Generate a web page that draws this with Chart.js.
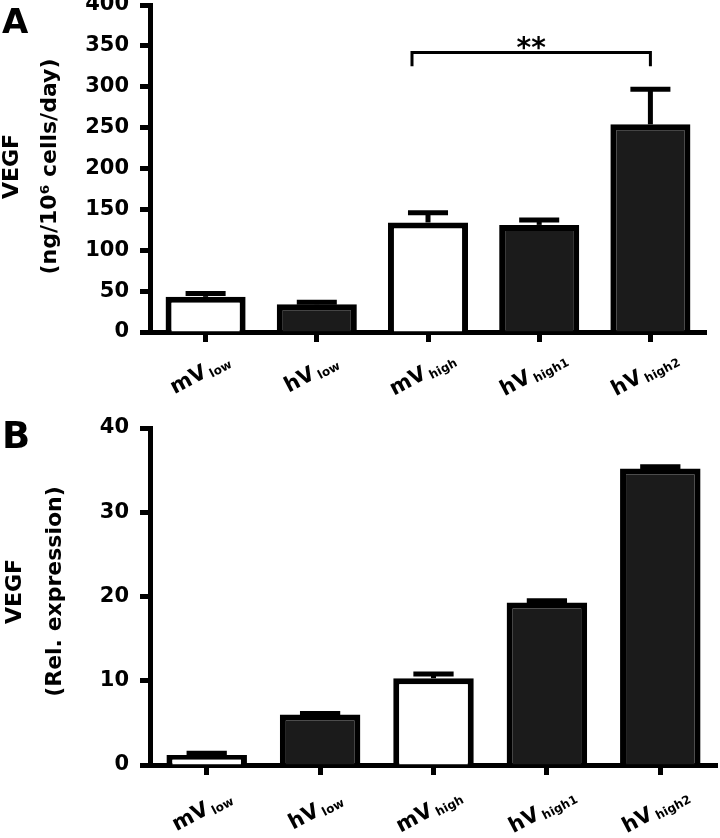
<!DOCTYPE html>
<html>
<head>
<meta charset="utf-8">
<script src="https://cdn.jsdelivr.net/npm/chart.js@4.4.1/dist/chart.umd.min.js"></script>
<style>
  html, body { margin: 0; padding: 0; background: #fff; width: 720px; height: 838px; overflow: hidden; position: relative; }
  canvas { position: absolute; left: 0; }
  #chartA { top: -25px; }
  #chartB { top: 398px; }
</style>
</head>
<body>
<canvas id="chartA" width="720" height="430"></canvas>
<canvas id="chartB" width="720" height="440"></canvas>
<script>
// ---- data ----
const groupMain = ['mV', 'hV', 'mV', 'hV', 'hV'];
const groupSub = ['low', 'low', 'high', 'high1', 'high2'];
const categories = groupMain.map((m, i) => m + ' ' + groupSub[i]);

// Panel A: VEGF secretion (ng/10^6 cells/day)
const secretionMeans = [43, 34, 134, 131, 254];
const secretionErrors = [4, 2.5, 12, 6, 43];
const secretionTicks = [0, 50, 100, 150, 200, 250, 300, 350, 400];
const secretionTitle = ['VEGF', '(ng/10\u2076 cells/day)'];
const sigFrom = 2, sigTo = 4, sigLevel = 342, sigLabel = '**';

// Panel B: VEGF relative expression
const expressionMeans = [1.2, 6.0, 10.3, 19.3, 35.2];
const expressionErrors = [0.2, 0.1, 0.5, 0.2, 0.2];
const expressionTicks = [0, 10, 20, 30, 40];
const expressionTitle = ['VEGF', '(Rel. expression)'];

const FONT = "'DejaVu Sans', sans-serif";

function annotPlugin(p) {
  return {
    id: 'annot',
    afterDraw(chart) {
      const { ctx, chartArea: ca, scales: { x, y } } = chart;
      const meta = chart.getDatasetMeta(0);
      ctx.save();
      // error bars (upper only)
      ctx.strokeStyle = '#000';
      ctx.lineWidth = 5;
      ctx.lineCap = 'butt';
      p.means.forEach((m, i) => {
        const cx = x.getPixelForValue(i);
        const y0 = y.getPixelForValue(m);
        const y1 = y.getPixelForValue(m + p.errs[i]);
        const half = meta.data[i].width / 4;
        ctx.beginPath(); ctx.moveTo(cx, y0); ctx.lineTo(cx, y1); ctx.stroke();
        ctx.beginPath(); ctx.moveTo(cx - half, y1); ctx.lineTo(cx + half, y1); ctx.stroke();
      });
      // significance bracket
      if (p.sig) {
        const xl = x.getPixelForValue(p.sig.from) - 16;
        const xr = x.getPixelForValue(p.sig.to);
        const yb = y.getPixelForValue(p.sig.level);
        const yd = y.getPixelForValue(p.sig.level - 17);
        ctx.lineWidth = 3;
        ctx.beginPath(); ctx.moveTo(xl, yd); ctx.lineTo(xl, yb); ctx.lineTo(xr, yb); ctx.lineTo(xr, yd); ctx.stroke();
        ctx.fillStyle = '#000';
        ctx.font = `bold 28px ${FONT}`;
        ctx.textAlign = 'center';
        ctx.textBaseline = 'alphabetic';
        ctx.fillText(p.sig.label, (xl + xr) / 2, yb + 5);
      }
      // category labels with subscripts
      ctx.fillStyle = '#000';
      groupMain.forEach((g, i) => {
        const cx = x.getPixelForValue(i) + p.labelDx;
        const cy = ca.bottom + p.labelDy;
        ctx.save();
        ctx.translate(cx, cy);
        ctx.rotate(-p.labelAngle * Math.PI / 180);
        ctx.font = `bold 21px ${FONT}`;
        const wm = ctx.measureText(g).width;
        ctx.font = `bold 12px ${FONT}`;
        const ws = ctx.measureText(groupSub[i]).width;
        const gap = 3;
        const total = wm + gap + ws;
        ctx.textAlign = 'left';
        ctx.textBaseline = 'alphabetic';
        ctx.font = `bold 21px ${FONT}`;
        ctx.fillText(g, -total / 2, 7);
        ctx.font = `bold 12px ${FONT}`;
        ctx.fillText(groupSub[i], -total / 2 + wm + gap, 10);
        ctx.restore();
      });
      // y-axis title (two lines)
      const midY = (ca.top + ca.bottom) / 2 + p.titleDy;
      ctx.font = `bold 22px ${FONT}`;
      ctx.textAlign = 'center';
      ctx.textBaseline = 'middle';
      p.title.forEach((t, k) => {
        ctx.save();
        ctx.translate(p.titleX[k], midY);
        ctx.rotate(-Math.PI / 2);
        ctx.fillText(t, 0, 0);
        ctx.restore();
      });
      // panel letter
      ctx.font = `bold ${p.letterSize}px ${FONT}`;
      ctx.textAlign = 'left';
      ctx.textBaseline = 'alphabetic';
      ctx.fillText(p.letter, 2, ca.top + p.letterDy);
      ctx.restore();
    }
  };
}

function buildChart(id, p) {
  return new Chart(document.getElementById(id), {
    type: 'bar',
    data: {
      labels: categories,
      datasets: [{
        data: p.means,
        backgroundColor: groupMain.map(g => g === 'mV' ? '#ffffff' : '#1b1b1b'),
        borderColor: '#000',
        borderWidth: 6,
        borderSkipped: 'start',
        barPercentage: p.barPct,
        categoryPercentage: 1.0
      }]
    },
    options: {
      responsive: false,
      animation: false,
      devicePixelRatio: 1,
      layout: { padding: { top: 30, right: p.padRight, left: 0, bottom: 0 } },
      plugins: { legend: { display: false }, tooltip: { enabled: false }, title: { display: false } },
      scales: {
        x: {
          z: 1,
          offset: true,
          grid: { offset: false, drawOnChartArea: false, drawTicks: true, tickLength: 10, tickWidth: 5, tickColor: '#000' },
          border: { display: true, color: '#000', width: 5 },
          ticks: { display: false },
          afterFit(s) { s.height = p.xAxisH; }
        },
        y: {
          z: 1,
          min: p.ticks[0],
          max: p.ticks[p.ticks.length - 1],
          afterBuildTicks(s) { s.ticks = p.ticks.map(v => ({ value: v })); },
          grid: { drawOnChartArea: false, drawTicks: true, tickLength: 10, tickWidth: 5, tickColor: '#000' },
          border: { display: true, color: '#000', width: 5 },
          ticks: { color: '#000', font: { family: FONT, size: 21, weight: 'bold' }, padding: 11 },
          afterFit(s) { s.width = 150; }
        }
      }
    },
    plugins: [annotPlugin(p)]
  });
}

buildChart('chartA', {
  means: secretionMeans, errs: secretionErrors, ticks: secretionTicks, title: secretionTitle,
  titleX: [12, 50], titleDy: -2, letter: 'A', letterSize: 34, letterDy: 28,
  barPct: 0.72, padRight: 14, xAxisH: 73, labelDx: -6, labelDy: 41, labelAngle: 28,
  sig: { from: sigFrom, to: sigTo, level: sigLevel, label: sigLabel }
});

buildChart('chartB', {
  means: expressionMeans, errs: expressionErrors, ticks: expressionTicks, title: expressionTitle,
  titleX: [15, 55], titleDy: -5, letter: 'B', letterSize: 37, letterDy: 20,
  barPct: 0.71, padRight: 3, xAxisH: 73, labelDx: -5, labelDy: 45, labelAngle: 28,
  sig: null
});
</script>
</body>
</html>
